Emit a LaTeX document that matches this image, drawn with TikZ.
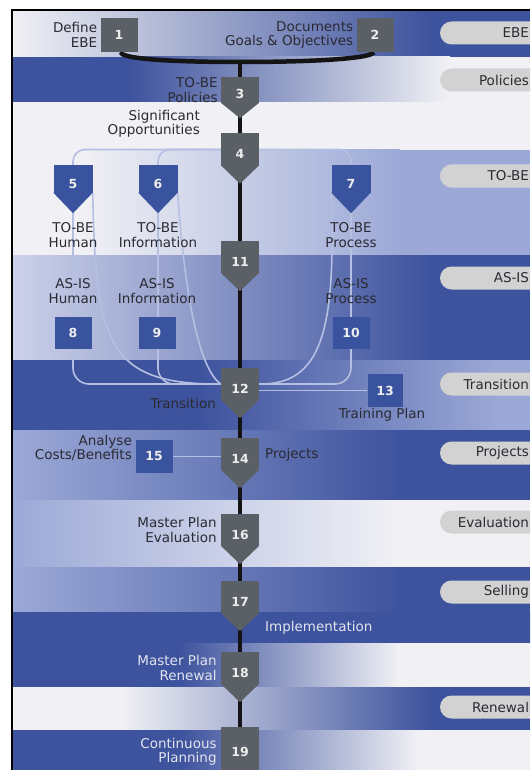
\documentclass[tikz,border=0pt]{standalone}
\usepackage{fontspec}
\setmainfont{DejaVu Sans}
\usepackage{tikz}
\usetikzlibrary{positioning, calc}
\definecolor{BandBlue}{HTML}{3E539E}
\definecolor{BandMid}{HTML}{9CA9D7}
\definecolor{BandLight}{HTML}{CDD2EA}
\definecolor{BandWhite}{HTML}{F1F1F5}
\definecolor{StepGray}{HTML}{5B5F66}
\definecolor{StepBlue}{HTML}{3A539F}
\definecolor{PillGray}{HTML}{D2D2D2}
\definecolor{LinkBlue}{HTML}{B4BFE2}
\definecolor{SpineBlack}{HTML}{141414}
\definecolor{TextDark}{HTML}{2A2A32}
\definecolor{TextLight}{HTML}{E2E4EE}
\definecolor{NumWhite}{HTML}{EDEDED}

\pgfdeclarelayer{bands}
\pgfdeclarelayer{links}
\pgfsetlayers{bands,links,main}

\newcommand{\lblfont}{\fontsize{13.5}{14.5}\selectfont}
\newcommand{\numfont}{\fontsize{12.5}{14}\selectfont\bfseries}

\begin{document}
\begin{tikzpicture}[x=1pt, y=-1pt,
  lbl/.style={font=\lblfont, text=TextDark, align=center, inner sep=1pt},
  lbllight/.style={lbl, text=TextLight},
  graybox/.style={fill=StepGray, text=NumWhite, font=\numfont,
                  minimum width=37pt, minimum height=34pt, inner sep=0pt},
  bluebox/.style={graybox, fill=StepBlue, minimum height=32pt},
  graystep/.style={graybox, minimum width=38pt, minimum height=32pt,
                   text height=18pt, text depth=0pt},
  bluestep/.style={graystep, fill=StepBlue, minimum width=39pt, minimum height=28pt},
  pill/.style={fill=PillGray, rounded corners=11.5pt, minimum height=23pt,
               text width=76pt, inner xsep=13pt, inner ysep=0pt, align=right,
               font=\lblfont, text=TextDark},
  spine/.style={draw=SpineBlack, line width=4.5pt},
  link/.style={draw=LinkBlue, line width=1.6pt, rounded corners=16pt}]

  \useasboundingbox (0,0) rectangle (530,770);
  \clip (0,0) rectangle (530,770);

  % horizontal bands: top/bottom/left colour/right colour/fade from/fade to
  \begin{pgfonlayer}{bands}
    \fill[white] (0,0) rectangle (530,770);
    \foreach \ya/\yb/\cl/\cr/\xa/\xb in {10/57/BandWhite/BandBlue/12/430,
        57/103/BandBlue/BandWhite/130/450, 103/150/BandWhite/BandWhite/12/530,
        150/255/BandWhite/BandMid/80/400, 255/360/BandLight/BandBlue/12/430,
        360/430/BandBlue/BandMid/200/500, 430/500/BandMid/BandBlue/12/400,
        500/567/BandMid/BandWhite/12/400, 567/612/BandMid/BandBlue/12/400,
        612/643/BandBlue/BandBlue/12/530, 643/687/BandBlue/BandWhite/180/400,
        687/730/BandWhite/BandBlue/120/430, 730/770/BandBlue/BandWhite/180/420}{
      \fill[\cl] (12,\ya) rectangle (\xa+1,\yb+0.5);
      \fill[\cr] (\xb-1,\ya) rectangle (530,\yb+0.5);
      \shade[left color=\cl, right color=\cr] (\xa,\ya) rectangle (\xb,\yb+0.5);
    }
    \draw[line width=2pt] (12,770) -- (12,10) -- (530,10);
  \end{pgfonlayer}

  % phase pills
  \foreach \y/\t [count=\i] in {33/EBE, 80/Policies, 176/TO-BE, 278/AS-IS, 384/Transition,
      453/Projects, 522/Evaluation, 592/Selling, 707/Renewal}
    \node[pill] (pill\i) at (491,\y) {\t};

  % steps
  \node[graybox] (n1) at (119,35) {1};
  \node[graybox] (n2) at (375,35) {2};
  \node[graystep, minimum height=26pt] (n3) at (240,90) {3};
  \node[graystep] (n4) at (240,149.5) {4};
  \node[bluestep] (n5) at (73,179) {5};
  \node[bluestep] (n6) at (158,179) {6};
  \node[bluestep] (n7) at (351,179) {7};
  \node[bluebox] (n8) at (73,333) {8};
  \node[bluebox] (n9) at (157,333) {9};
  \node[bluebox] (n10) at (351,333) {10};
  \node[graystep] (n11) at (240,257) {11};
  \node[graystep] (n12) at (240,384) {12};
  \node[bluebox, minimum width=35pt, minimum height=33pt] (n13) at (385,390.5) {13};
  \node[graystep] (n14) at (240,454) {14};
  \node[bluebox, minimum height=33pt] (n15) at (154,456.5) {15};
  \node[graystep] (n16) at (240,530) {16};
  \node[graystep] (n17) at (240,597) {17};
  \node[graystep] (n18) at (240,668) {18};
  \node[graybox, minimum width=38pt, minimum height=50pt] (n19) at (240,752) {19};

  % pointed ends of the steps
  \foreach \n/\h in {n3/15, n4/18, n11/18, n12/18, n14/18, n16/18, n17/18, n18/18}
    \fill[StepGray] ([yshift=0.5pt]\n.south west) -- ([yshift=0.5pt]\n.south east)
      -- ([yshift=-\h pt]\n.south) -- cycle;
  \foreach \n in {n5, n6, n7}
    \fill[StepBlue] ([yshift=0.5pt]\n.south west) -- ([yshift=0.5pt]\n.south east)
      -- ([yshift=-20pt]\n.south) -- cycle;

  % labels
  \node[lbl, align=right, left=2pt of n1] (t1) {Define\\EBE};
  \node[lbl, align=right, left=2pt of n2] (t2) {Documents\\Goals \& Objectives};
  \node[lbl, align=right, left=2pt of n3] (t3) {TO-BE\\Policies};
  \node[lbl, align=right, anchor=east] (t4) at (201,124) {Significant\\Opportunities};
  \node[lbl] (t5) at (73,235) {TO-BE\\Human};
  \node[lbl] (t6) at (158,235) {TO-BE\\Information};
  \node[lbl] (t7) at (351,235) {TO-BE\\Process};
  \node[lbl] (t8) at (73,291) {AS-IS\\Human};
  \node[lbl] (t9) at (157,291) {AS-IS\\Information};
  \node[lbl] (t10) at (351,291) {AS-IS\\Process};
  \node[lbl, anchor=east] (t12) at (217,403) {Transition};
  \node[lbl] (t13) at (382,415) {Training Plan};
  \node[lbl, align=right, anchor=east] (t15) at (133,448) {Analyse\\Costs/Benefits};
  \node[lbl, anchor=west] (t14) at (264,455) {Projects};
  \node[lbl, align=right, left=3pt of n16] (t16) {Master Plan\\Evaluation};
  \node[lbllight, anchor=west] (t17) at (264,628) {Implementation};
  \node[lbllight, align=right, left=3pt of n18] (t18) {Master Plan\\Renewal};
  \node[lbllight, align=right, left=3pt of n19] (t19) {Continuous\\Planning};

  % connectors
  \begin{pgfonlayer}{links}
    \draw[link, rounded corners=12pt] (n4.west) -| (n5.north);
    \draw[link, rounded corners=12pt] (n4.west) -| (n6.north);
    \draw[link, rounded corners=12pt] (n4.east) -| (n7.north);
    \draw[link] (n5) |- (n12.west);
    \draw[link] (n6) |- (n12.west);
    \draw[link] (n7) |- (n12.east);
    \draw[link] (n5.south east) .. controls (96,340) and (105,385) .. (n12.west);
    \draw[link] (n6.south east) .. controls (185,300) and (200,370) .. (n12.west);
    \draw[link] (n7.south west) .. controls (336,330) and (322,385) .. (n12.east);
    \draw[link] (n13.west) -- (n13.west -| n12.east);
    \draw[link] (n15.east) -- (n15.east -| n14.west);
    \coordinate (join) at (240,62);
    \draw[spine] (n1) .. controls (121,58) and (160,62) .. (join);
    \draw[spine] (n2) .. controls (373,58) and (320,62) .. (join);
    \draw[spine] (join) -- (n19);
  \end{pgfonlayer}
\end{tikzpicture}
\end{document}
